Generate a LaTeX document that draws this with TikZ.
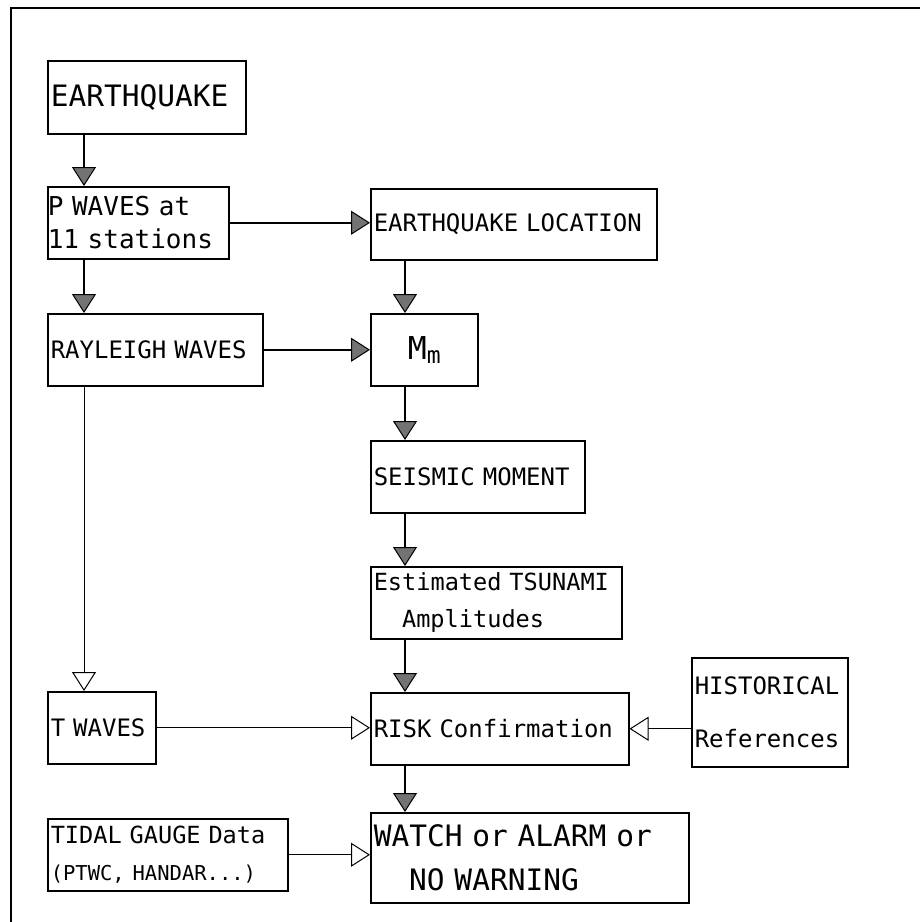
\documentclass[tikz,border=0pt]{standalone}
\usepackage{fontspec}
\newfontfamily\plotfont[WordSpace={1,0,0},PunctuationSpace=WordSpace]{DejaVu Sans Mono}
\usetikzlibrary{arrows.meta,calc}
\tikzset{
  box/.style={draw, line width=1.5pt, anchor=north west, inner xsep=3pt,
              inner ysep=0pt, align=left},
  big/.style={font=\plotfont\fontsize{29.5}{44}\selectfont},
  mid/.style={font=\plotfont\fontsize{24}{30}\selectfont},
  flow/.style={line width=2.4pt, -{Triangle[length=19pt,width=24pt,
               line width=1pt,fill=black!55]}},
  feed/.style={line width=0.9pt, -{Triangle[open,length=19pt,width=24pt,
               line width=1pt]}},
}
\begin{document}
\begin{tikzpicture}[x=1pt,y=-1pt]
  \useasboundingbox (0,0) rectangle (920,922);
  % frame
  \draw[line width=1.2pt] (920,8) -- (11,8) -- (11,922);

  % left column
  \node[box,big,minimum width=198pt,text width=192pt,minimum height=73pt]
    (quake) at (47,60) {EARTHQUAKE};
  \node[box,inner xsep=0pt,minimum width=181pt,text width=181pt,minimum height=72pt,
    font=\plotfont\fontsize{26}{33}\selectfont] (pwave) at (47,186)
    {P WAVES at\\11 stations};
  \node[box,mid,minimum width=215pt,text width=209pt,minimum height=72pt]
    (rayl) at (47,313) {RAYLEIGH WAVES};
  \node[box,mid,minimum width=108pt,text width=102pt,minimum height=72pt]
    (twave) at (47,691) {T WAVES};
  \node[box,mid,minimum width=240pt,text width=234pt,minimum height=72pt,
    font=\plotfont\fontsize{23.6}{37}\selectfont] (tide) at (47,818)
    {TIDAL GAUGE Data\\{\fontsize{20.5}{37}\selectfont (PTWC, HANDAR...)}};

  % right column
  \node[box,mid,minimum width=286pt,text width=280pt,minimum height=71pt]
    (loc) at (370,188) {EARTHQUAKE LOCATION};
  \node[box,align=center,minimum width=107pt,text width=101pt,minimum height=72pt,
    font=\plotfont\fontsize{31.5}{33}\selectfont] (mm) at (370,313)
    {M\raisebox{-4pt}{\fontsize{23}{23}\selectfont m}\hspace*{12pt}};
  \node[box,mid,minimum width=214pt,text width=208pt,minimum height=72pt]
    (moment) at (370,440) {SEISMIC MOMENT};
  \node[box,minimum width=251pt,text width=245pt,minimum height=72pt,
    font=\plotfont\fontsize{23.6}{37}\selectfont] (ampl) at (370,566)
    {Estimated TSUNAMI\\\hspace*{1.2em}Amplitudes};
  \node[box,mid,minimum width=258pt,text width=252pt,minimum height=72pt]
    (risk) at (370,692) {RISK Confirmation};
  \node[box,big,minimum width=318pt,text width=312pt,minimum height=90pt]
    (alarm) at (370,812) {WATCH or ALARM or\\\hspace*{1.2em}NO WARNING};
  \node[box,minimum width=156pt,text width=150pt,minimum height=109pt,
    font=\plotfont\fontsize{24}{53}\selectfont] (hist) at (691,657)
    {HISTORICAL\\References};

  % main flow
  \draw[flow] ([xshift=37pt]quake.south west) -- ([xshift=37pt]pwave.north west);
  \draw[flow] ([xshift=37pt]pwave.south west) -- ([xshift=37pt]rayl.north west);
  \draw[flow] (pwave.east) -- (pwave.east -| loc.west);
  \draw[flow] (rayl.east) -- (rayl.east -| mm.west);
  \draw[flow] ([xshift=35pt]loc.south west) -- ([xshift=35pt]mm.north west);
  \draw[flow] ([xshift=35pt]mm.south west) -- ([xshift=35pt]moment.north west);
  \draw[flow] ([xshift=35pt]moment.south west) -- ([xshift=35pt]ampl.north west);
  \draw[flow] ([xshift=35pt]ampl.south west) -- ([xshift=35pt]risk.north west);
  \draw[flow] ([xshift=35pt]risk.south west) -- ([xshift=35pt]alarm.north west);

  % confirmations
  \draw[feed] ([xshift=37pt]rayl.south west) -- ([xshift=37pt]twave.north west);
  \draw[feed] (twave.east) -- (twave.east -| risk.west);
  \draw[feed] (risk.east -| hist.west) -- (risk.east);
  \draw[feed] (tide.east) -- (tide.east -| alarm.west);
\end{tikzpicture}
\end{document}
